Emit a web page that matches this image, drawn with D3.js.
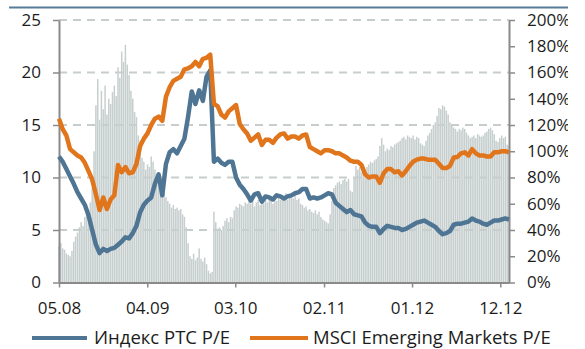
<!DOCTYPE html>
<html>
<head>
<meta charset="utf-8">
<script src="https://cdn.jsdelivr.net/npm/d3@7"></script>
<style>
  html, body { margin: 0; background: #fff; }
  svg { display: block; }
  text { font-family: "Open Sans", sans-serif; fill: #1c1c1c; }
</style>
</head>
<body>
<svg id="chart" width="585" height="349"></svg>
<script>
// Series start date; line series are sampled every 14 days, the discount series weekly
const startDate = Date.UTC(2008, 4, 1);
const lineStepDays = 14;
const barStepDays = 7;

// RTS index P/E (left axis)
const rtsPE = [
  12.0, 11.5, 10.8, 10.1, 9.4, 8.6, 8.0, 7.4, 6.4, 5.0,
  3.6, 2.8, 3.2, 3.0, 3.2, 3.3, 3.6, 3.9, 4.3, 4.2,
  4.7, 5.4, 6.7, 7.4, 7.8, 8.1, 9.4, 10.3, 8.3, 11.3,
  12.4, 12.7, 12.3, 13.0, 13.7, 15.8, 18.2, 17.0, 18.3, 17.3,
  19.6, 20.2, 11.5, 11.8, 11.4, 11.2, 11.5, 11.5, 10.0, 9.3,
  8.9, 8.4, 7.8, 8.4, 8.5, 7.7, 8.2, 8.1, 7.9, 8.3,
  8.2, 8.0, 8.2, 8.3, 8.5, 8.6, 8.9, 8.9, 8.0, 8.1,
  8.0, 8.1, 8.3, 8.5, 8.4, 7.6, 7.3, 7.0, 6.7, 6.9,
  6.5, 6.4, 6.3, 5.7, 5.4, 5.3, 5.3, 4.7, 5.1, 5.4,
  5.3, 5.2, 5.2, 5.0, 5.1, 5.3, 5.5, 5.7, 5.8, 5.9,
  5.7, 5.5, 5.3, 4.9, 4.6, 4.7, 4.9, 5.5, 5.6, 5.6,
  5.7, 5.8, 6.1, 5.9, 5.8, 5.6, 5.5, 5.7, 5.9, 5.9,
  6.0, 6.1, 6.0
];

// MSCI Emerging Markets P/E (left axis)
const msciPE = [
  15.6, 14.6, 14.0, 12.7, 12.4, 12.1, 11.9, 11.4, 10.6, 9.8,
  8.4, 6.9, 8.1, 7.0, 7.9, 8.3, 11.2, 10.5, 11.0, 10.4,
  10.5, 11.3, 13.0, 13.7, 14.2, 15.0, 15.6, 15.8, 15.4, 17.7,
  18.6, 19.2, 19.4, 19.6, 20.3, 20.4, 20.6, 21.0, 20.6, 21.3,
  21.4, 21.7, 17.0, 16.8, 16.0, 15.7, 16.3, 16.6, 16.9, 15.1,
  14.6, 14.2, 13.5, 13.8, 14.1, 13.1, 13.6, 13.6, 13.3, 13.8,
  14.1, 14.2, 13.7, 13.9, 13.9, 13.7, 14.0, 14.1, 12.9, 12.7,
  12.5, 12.3, 12.6, 12.6, 12.5, 12.3, 12.3, 12.1, 11.9, 11.6,
  11.5, 11.5, 11.2, 10.3, 10.0, 10.1, 10.1, 9.5, 10.4, 10.8,
  10.8, 10.5, 10.6, 10.2, 10.6, 11.1, 11.5, 11.7, 11.8, 11.8,
  11.7, 11.7, 11.7, 11.3, 10.9, 10.9, 11.1, 11.9, 11.95, 12.3,
  12.4, 12.1, 12.7, 12.3, 12.1, 12.1, 12.0, 12.0, 12.4, 12.4,
  12.5, 12.5, 12.4
];

// Discount series, % (right axis), weekly bars
const discountPct = [
  28, 30, 26, 25, 22, 21, 20, 24, 31, 35,
  38, 42, 46, 43, 50, 54, 51, 61, 72, 100,
  135, 155, 124, 146, 132, 150, 128, 140, 136, 145,
  150, 142, 164, 156, 176, 168, 181, 166, 158, 146,
  140, 130, 126, 112, 108, 95, 92, 86, 90, 88,
  96, 92, 86, 82, 79, 74, 71, 68, 65, 62,
  60, 57, 59, 56, 57, 55, 56, 52, 50, 42,
  30, 20, 18, 22, 17, 19, 26, 18, 16, 19,
  14, 9, 7, 8, 54, 46, 41, 42, 40, 43,
  47, 49, 46, 50, 49, 55, 58, 57, 60, 59,
  58, 61, 60, 62, 60, 64, 58, 61, 63, 59,
  62, 60, 65, 61, 63, 66, 60, 64, 62, 65,
  63, 66, 64, 68, 63, 66, 65, 64, 67, 63,
  64, 60, 59, 57, 58, 55, 56, 54, 53, 55,
  52, 54, 50, 48, 47, 46, 45, 52, 62, 72,
  74, 76, 77, 75, 78, 79, 77, 79, 70, 69,
  80, 89, 86, 88, 84, 83, 86, 88, 90, 92,
  91, 93, 94, 96, 104, 110, 105, 100, 102, 101,
  104, 103, 105, 106, 107, 108, 110, 111, 109, 112,
  111, 110, 112, 109, 111, 110, 106, 105, 104, 108,
  112, 114, 117, 120, 122, 127, 133, 132, 135, 134,
  131, 128, 122, 120, 118, 117, 115, 117, 116, 118,
  117, 114, 112, 110, 111, 112, 110, 113, 112, 111,
  112, 114, 115, 117, 118, 116, 113, 108, 107, 110,
  112, 110, 111, 105, 104
];

const xTickDates = ["2008-05-01", "2009-04-01", "2010-03-01", "2011-02-01", "2012-01-01", "2012-12-01"];
const leftTicks = [0, 5, 10, 15, 20, 25];
const rightTicks = [0, 20, 40, 60, 80, 100, 120, 140, 160, 180, 200];
const seriesNames = ["Индекс PTC P/E", "MSCI Emerging Markets P/E"];

const blue = "#4f7594";
const orange = "#e1751b";
const axisGrey = "#8a8a8a";

const svg = d3.select("#chart");
svg.append("defs").append("clipPath").attr("id", "pageClip")
  .append("rect").attr("x", 0).attr("y", 0).attr("width", 568).attr("height", 349);
const root = svg.append("g").attr("clip-path", "url(#pageClip)");

const plot = { left: 59, right: 509, top: 20, bottom: 282.5 };

const dayOf = (i, step) => d3.utcDay.offset(new Date(startDate), i * step);
const endDate = dayOf(rtsPE.length - 1, lineStepDays);

const x = d3.scaleUtc().domain([new Date(startDate), endDate]).range([plot.left, plot.right]);
const yL = d3.scaleLinear().domain([0, 25]).range([plot.bottom, plot.top]);
const yR = d3.scaleLinear().domain([0, 200]).range([plot.bottom, plot.top]);

// top rule
root.append("line")
  .attr("x1", 9).attr("x2", 568).attr("y1", 7.5).attr("y2", 7.5)
  .attr("stroke", "#587b97").attr("stroke-width", 2);

// dashed gridlines
root.append("g").selectAll("line")
  .data(leftTicks.filter(d => d > 0))
  .join("line")
  .attr("x1", plot.left).attr("x2", plot.right)
  .attr("y1", d => yL(d)).attr("y2", d => yL(d))
  .attr("stroke", "#c6cdcc").attr("stroke-width", 2)
  .attr("stroke-dasharray", "8,6");

// discount bars
const barW = 1.5;
root.append("g").selectAll("rect")
  .data(discountPct)
  .join("rect")
  .attr("x", (d, i) => x(dayOf(i, barStepDays)) - barW / 2)
  .attr("width", barW)
  .attr("y", d => yR(d))
  .attr("height", d => yR(0) - yR(d))
  .attr("fill", "#c6cfce");

function styleAxis(g) {
  g.select(".domain").attr("stroke", axisGrey).attr("stroke-width", 2);
  g.selectAll(".tick line").attr("stroke", axisGrey).attr("stroke-width", 1.5);
  g.selectAll(".tick text").style("font-size", "17px").attr("fill", "#1c1c1c");
}

// left axis
root.append("g")
  .attr("transform", `translate(${plot.left},0)`)
  .call(d3.axisLeft(yL).tickValues(leftTicks).tickSize(6).tickSizeOuter(0).tickPadding(12))
  .call(styleAxis);

// right axis
root.append("g")
  .attr("transform", `translate(${plot.right},0)`)
  .call(d3.axisRight(yR).tickValues(rightTicks).tickSize(6).tickSizeOuter(0).tickPadding(12)
    .tickFormat(d => d + "%"))
  .call(styleAxis);

// bottom axis
root.append("g")
  .attr("transform", `translate(0,${plot.bottom})`)
  .call(d3.axisBottom(x).tickValues(xTickDates.map(s => new Date(s + "T00:00:00Z")))
    .tickSize(5).tickSizeOuter(0).tickPadding(14).tickFormat(d3.utcFormat("%m.%y")))
  .call(styleAxis);

// P/E lines
const line = d3.line()
  .x((d, i) => x(dayOf(i, lineStepDays)))
  .y(d => yL(d));

[[rtsPE, blue], [msciPE, orange]].forEach(([vals, col]) => {
  root.append("path")
    .datum(vals)
    .attr("d", line)
    .attr("fill", "none")
    .attr("stroke", col)
    .attr("stroke-width", 4.5)
    .attr("stroke-linejoin", "round");
});

// legend
const legendItems = [
  { name: seriesNames[0], color: blue, x1: 32, x2: 87, tx: 94 },
  { name: seriesNames[1], color: orange, x1: 250, x2: 308, tx: 313 }
];
const lg = root.append("g");
legendItems.forEach(it => {
  lg.append("line")
    .attr("x1", it.x1).attr("x2", it.x2).attr("y1", 338).attr("y2", 338)
    .attr("stroke", it.color).attr("stroke-width", 4);
  lg.append("text")
    .attr("x", it.tx).attr("y", 343.5)
    .style("font-size", "18.5px")
    .text(it.name);
});
</script>
</body>
</html>
